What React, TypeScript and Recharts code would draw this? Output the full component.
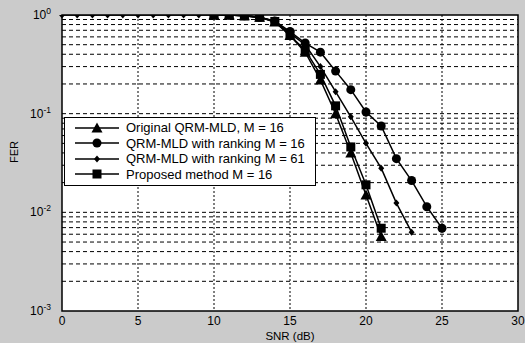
import React from 'react';
import {
  LineChart,
  Line,
  XAxis,
  YAxis,
  CartesianGrid,
  ReferenceArea,
  ReferenceLine,
  Legend,
} from 'recharts';

// FER vs SNR
const snrOriginal = [10, 11, 12, 13, 14, 15, 16, 17, 18, 19, 20, 21];
const ferOriginal = [1, 1, 0.98, 0.95, 0.85, 0.62, 0.42, 0.22, 0.1, 0.04, 0.015, 0.0057];

const snrRank16 = [10, 11, 12, 13, 14, 15, 16, 17, 18, 19, 20, 21, 22, 23, 24, 25];
const ferRank16 = [1, 1, 0.98, 0.95, 0.87, 0.68, 0.52, 0.42, 0.27, 0.175, 0.104, 0.075, 0.035, 0.021, 0.0114, 0.0069];

const snrRank61 = [0, 1, 2, 3, 4, 5, 6, 7, 8, 9, 10, 11, 12, 13, 14, 15, 16, 17, 18, 19, 20, 21, 22, 23];
const ferRank61 = [1, 1, 1, 1, 1, 1, 1, 1, 1, 1, 1, 1, 0.98, 0.95, 0.86, 0.65, 0.5, 0.3, 0.167, 0.093, 0.05, 0.028, 0.0124, 0.0063];

const snrProposed = [10, 11, 12, 13, 14, 15, 16, 17, 18, 19, 20, 21];
const ferProposed = [1, 1, 0.98, 0.95, 0.86, 0.62, 0.44, 0.25, 0.12, 0.046, 0.019, 0.0069];

const xTicks = [0, 5, 10, 15, 20, 25, 30];
const yTicks = [1, 0.1, 0.01, 0.001];
const yGrid = [0.1, 0.01, ...[2, 3, 4, 5, 6, 7, 8, 9].flatMap((m) => [m * 0.001, m * 0.01, m * 0.1])];

const toRows = (snr: number[], fer: number[]) => snr.map((s, i) => ({ snr: s, fer: fer[i] }));

const FONT = '"Liberation Sans", Arial, sans-serif';

type Shape = 'triangle' | 'circle' | 'diamond' | 'square';

const Marker = ({ shape, cx, cy }: { shape: Shape; cx: number; cy: number }) => {
  if (shape === 'triangle') {
    return <polygon points={`${cx},${cy - 5.5} ${cx + 5.5},${cy + 4.5} ${cx - 5.5},${cy + 4.5}`} fill="#000" />;
  }
  if (shape === 'circle') return <circle cx={cx} cy={cy} r={4.5} fill="#000" />;
  if (shape === 'square') return <rect x={cx - 4.5} y={cy - 4.5} width={9} height={9} fill="#000" />;
  return <polygon points={`${cx},${cy - 3.5} ${cx + 3},${cy} ${cx},${cy + 3.5} ${cx - 3},${cy}`} fill="#000" />;
};

const makeDot = (shape: Shape) => (props: any) => {
  const { cx, cy, index } = props;
  if (cx == null || cy == null) return <g key={`e-${shape}-${index}`} />;
  return <Marker key={`${shape}-${index}`} shape={shape} cx={cx} cy={cy} />;
};

const series: { name: string; shape: Shape; data: { snr: number; fer: number }[] }[] = [
  { name: 'Original QRM-MLD, M = 16', shape: 'triangle', data: toRows(snrOriginal, ferOriginal) },
  { name: 'QRM-MLD with ranking M = 16', shape: 'circle', data: toRows(snrRank16, ferRank16) },
  { name: 'QRM-MLD with ranking M = 61', shape: 'diamond', data: toRows(snrRank61, ferRank61) },
  { name: 'Proposed method M = 16', shape: 'square', data: toRows(snrProposed, ferProposed) },
];

const YTick = (props: any) => {
  const { x, y, payload } = props;
  const exp = Math.round(Math.log10(payload.value));
  return (
    <text x={x - 3} y={y + 4} textAnchor="end" fontSize={12} fontFamily={FONT} fill="#000">
      10
      <tspan dy={-5} fontSize={8.5}>
        {exp}
      </tspan>
    </text>
  );
};

const LegendBox = () => (
  <div
    style={{
      width: 250,
      background: '#fff',
      border: '1px solid #000',
      padding: '2px 0 3px 0',
      fontFamily: FONT,
      fontSize: 13,
      color: '#000',
    }}
  >
    {series.map((s) => (
      <div key={s.name} style={{ display: 'flex', alignItems: 'center', height: 15.5 }}>
        <svg width={52} height={14} style={{ marginLeft: 6, marginRight: 3 }}>
          <line x1={4} y1={7} x2={48} y2={7} stroke="#000" strokeWidth={1.5} />
          <Marker shape={s.shape} cx={26} cy={7} />
        </svg>
        <span>{s.name}</span>
      </div>
    ))}
  </div>
);

export default function App() {
  return (
    <div style={{ position: 'absolute', left: 0, top: 0, width: 525, height: 343, background: '#cbcbcb' }}>
      <LineChart width={525} height={343} margin={{ top: 15, right: 7, left: 2, bottom: 0 }}>
        <CartesianGrid
          horizontal={false}
          verticalValues={[5, 10, 15, 20, 25]}
          fill="#fff"
          fillOpacity={1}
          stroke="#000"
          strokeDasharray="2 2"
          strokeWidth={1}
        />
        {yGrid.map((v) => (
          <ReferenceLine key={v} y={v} stroke="#000" strokeDasharray="4 3" strokeWidth={1} />
        ))}
        <XAxis
          dataKey="snr"
          type="number"
          domain={[0, 30]}
          ticks={xTicks}
          allowDuplicatedCategory={false}
          axisLine={false}
          tickLine={false}
          height={32}
          tick={{ fontSize: 12, fontFamily: FONT, fill: '#000', dy: -3 }}
          label={{ value: 'SNR (dB)', position: 'insideBottom', offset: 3, fontSize: 11.5, fontFamily: FONT, fill: '#000' }}
        />
        <YAxis
          dataKey="fer"
          scale="log"
          domain={[0.001, 1]}
          ticks={yTicks}
          allowDataOverflow
          axisLine={false}
          tickLine={false}
          width={60}
          tick={<YTick />}
          label={{ value: 'FER', angle: -90, position: 'insideLeft', offset: 12, fontSize: 11, fontFamily: FONT, fill: '#000' }}
        />
        {series.map((s) => (
          <Line
            key={s.name}
            data={s.data}
            dataKey="fer"
            name={s.name}
            stroke="#000"
            strokeWidth={1.5}
            dot={makeDot(s.shape)}
            activeDot={false}
            isAnimationActive={false}
          />
        ))}
        <ReferenceArea x1={0} x2={30} y1={0.001} y2={1} fill="none" stroke="#000" strokeWidth={1.5} ifOverflow="visible" />
        <Legend
          layout="vertical"
          align="center"
          verticalAlign="middle"
          wrapperStyle={{ left: 64, top: 117, width: 252 }}
          content={<LegendBox />}
        />
      </LineChart>
    </div>
  );
}
